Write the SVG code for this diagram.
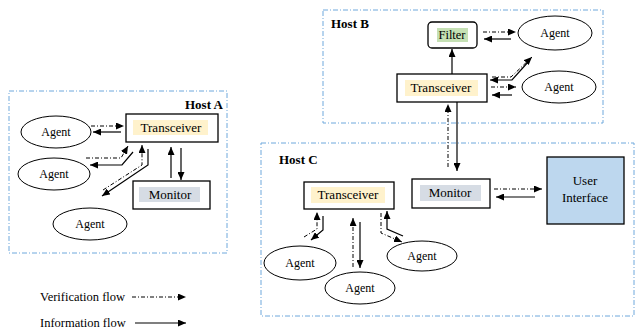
<svg xmlns="http://www.w3.org/2000/svg" width="637" height="329" viewBox="0 0 637 329" font-family="'Liberation Serif', 'Times New Roman', serif">
<defs>
<marker id="ah" markerWidth="8" markerHeight="7" refX="8" refY="3.5" orient="auto" markerUnits="userSpaceOnUse">
<path d="M0,0 L8,3.5 L0,7 Z" fill="#000"/>
</marker>
</defs>
<style>
text{font-family:'Liberation Serif','Times New Roman',serif;fill:#000}
.t{font-size:13px;text-anchor:middle}
.ag{font-size:12px;text-anchor:middle}
.host{font-size:13px;font-weight:bold}
.hb{fill:none;stroke:#6fa8dc;stroke-width:1;stroke-dasharray:5 2 1 2}
.box{fill:#fff;stroke:#000;stroke-width:1.3}
.ell{fill:#fff;stroke:#000;stroke-width:1}
.yl{fill:#fff2cc}
.gr{fill:#d6dce4}
.gn{fill:#c5e0b4}
.s{fill:none;stroke:#000;stroke-width:1.2;marker-end:url(#ah)}
.d{fill:none;stroke:#000;stroke-width:1;stroke-dasharray:4 2 1 2;marker-end:url(#ah)}
</style>
<rect width="637" height="329" fill="#fff"/>

<g id="hostA">
<rect class="hb" x="9" y="91" width="218" height="162"/>
<text class="host" x="185" y="109">Host A</text>
</g>
<g id="hostB">
<rect class="hb" x="323" y="10" width="280" height="113"/>
<text class="host" x="331" y="28">Host B</text>
</g>
<g id="hostC">
<rect class="hb" x="261" y="143" width="373" height="173"/>
<text class="host" x="279" y="164">Host C</text>
</g>

<g id="transceiverA">
<rect class="box" x="126" y="114" width="92" height="28"/>
<rect class="yl" x="133" y="120" width="75" height="15"/>
<text class="t" x="171" y="132">Transceiver</text>
</g>
<g id="monitorA">
<rect class="box" x="133" y="181" width="77" height="28"/>
<rect class="gr" x="139" y="187" width="61" height="15"/>
<text class="t" x="170" y="199">Monitor</text>
</g>
<g id="agentA1">
<ellipse class="ell" cx="56" cy="132" rx="35" ry="16"/>
<text class="ag" x="56" y="136">Agent</text>
</g>
<g id="agentA2">
<ellipse class="ell" cx="54" cy="174" rx="36" ry="16"/>
<text class="ag" x="54" y="178">Agent</text>
</g>
<g id="agentA3">
<ellipse class="ell" cx="90" cy="224" rx="37" ry="16"/>
<text class="ag" x="90" y="228">Agent</text>
</g>

<g id="filter">
<rect class="box" x="428" y="22" width="49" height="26" rx="4"/>
<rect class="gn" x="437" y="28" width="31" height="14"/>
<text class="t" x="452" y="39" style="font-size:12.5px">Filter</text>
</g>
<g id="transceiverB">
<rect class="box" x="397" y="74" width="90" height="28"/>
<rect class="yl" x="405" y="80" width="73" height="16"/>
<text class="t" x="441" y="92">Transceiver</text>
</g>
<g id="agentB1">
<ellipse class="ell" cx="555" cy="33" rx="37" ry="17"/>
<text class="ag" x="555" y="37">Agent</text>
</g>
<g id="agentB2">
<ellipse class="ell" cx="559" cy="87" rx="37" ry="16"/>
<text class="ag" x="559" y="91">Agent</text>
</g>

<g id="transceiverC">
<rect class="box" x="304" y="182" width="90" height="27"/>
<rect class="yl" x="311" y="187" width="74" height="16"/>
<text class="t" x="348" y="199">Transceiver</text>
</g>
<g id="monitorC">
<rect class="box" x="412" y="179" width="78" height="29"/>
<rect class="gr" x="420" y="185" width="61" height="16"/>
<text class="t" x="450" y="197">Monitor</text>
</g>
<g id="userInterface">
<rect x="547" y="157" width="77" height="67" fill="#bdd7ee" stroke="#000" stroke-width="1.3"/>
<text class="t" x="585" y="185">User</text>
<text class="t" x="585" y="202">Interface</text>
</g>
<g id="agentC1">
<ellipse class="ell" cx="300" cy="263" rx="36" ry="17"/>
<text class="ag" x="300" y="267">Agent</text>
</g>
<g id="agentC2">
<ellipse class="ell" cx="360" cy="288" rx="35" ry="16"/>
<text class="ag" x="360" y="292">Agent</text>
</g>
<g id="agentC3">
<ellipse class="ell" cx="422" cy="256" rx="35" ry="15"/>
<text class="ag" x="422" y="260">Agent</text>
</g>

<g id="connectors">
<path class="d" d="M91,126 L124,126"/>
<path class="s" d="M121,132 L93,132"/>
<path class="d" d="M86,158 L121,158 L128,146"/>
<path class="s" d="M133,152 L122,165 L90,165"/>
<path class="d" d="M103,190 L142,165 L142,145"/>
<path class="s" d="M148,149 L148,165 L102,196"/>
<path class="s" d="M171,178 L171,147"/>
<path class="s" d="M181,148 L181,180"/>
<path class="s" d="M452,74 L452,49"/>
<path class="d" d="M483,32 L516,32"/>
<path class="s" d="M511,39 L484,39"/>
<path class="d" d="M492,77 L511,77 L532,57"/>
<path class="s" d="M529,61 L512,80 L490,80"/>
<path class="d" d="M491,87 L516,87"/>
<path class="s" d="M512,95 L492,95"/>
<path class="d" d="M448,167 L448,104"/>
<path class="s" d="M457,102 L457,171"/>
<path class="d" d="M494,189 L542,189"/>
<path class="s" d="M535,197 L496,197"/>
<path class="d" d="M304,237 L317,229 L317,212"/>
<path class="s" d="M323,216 L323,230 L311,240"/>
<path class="d" d="M353,267 L353,218"/>
<path class="s" d="M360,222 L360,268"/>
<path class="d" d="M381,213 L381,233 L402,242"/>
<path class="s" d="M403,236 L387,229 L387,211"/>
</g>

<g id="legend">
<text x="40" y="301" style="font-size:12.5px">Verification flow</text>
<path class="d" d="M132,297 L186,297"/>
<text x="40" y="327" style="font-size:12.5px">Information flow</text>
<path class="s" d="M135,323 L186,323"/>
</g>
</svg>
